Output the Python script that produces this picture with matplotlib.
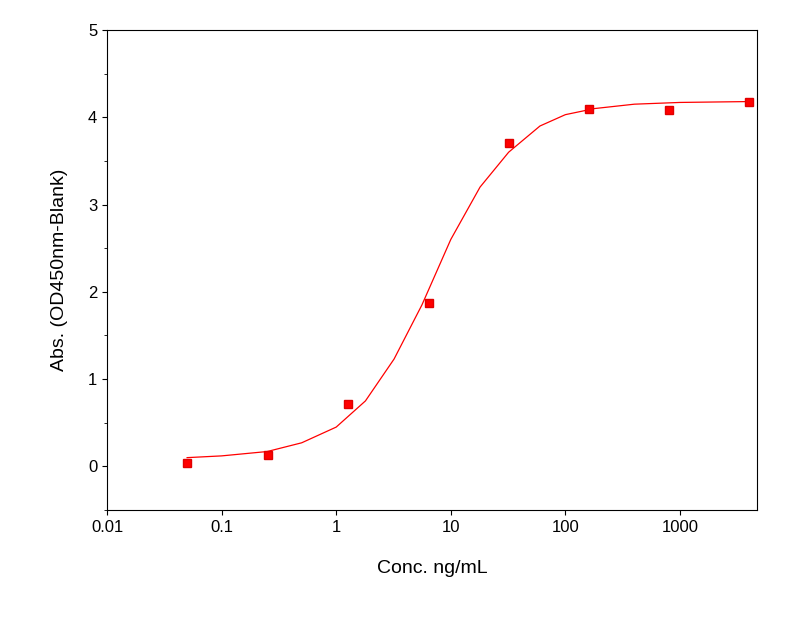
import matplotlib
matplotlib.use("Agg")
from matplotlib import pyplot as plt
from matplotlib.ticker import FixedLocator, NullLocator, MultipleLocator

plt.rcParams["font.family"] = "Liberation Sans"

# measured points
conc = [0.05, 0.256, 1.28, 6.4, 32, 160, 800, 4000]
od = [0.04, 0.13, 0.72, 1.87, 3.71, 4.10, 4.08, 4.18]

# fitted curve
fit_x = [0.05, 0.1, 0.25, 0.5, 1.0, 1.8, 3.2, 5.6, 10, 18, 32, 60, 100, 180, 400, 1000, 4000]
fit_y = [0.10, 0.12, 0.17, 0.27, 0.45, 0.75, 1.23, 1.85, 2.60, 3.20, 3.60, 3.90, 4.03, 4.10, 4.15, 4.17, 4.18]

xticks = [0.01, 0.1, 1, 10, 100, 1000]
xlabels = ["0.01", "0.1", "1", "10", "100", "1000"]

fig = plt.figure(figsize=(7.89, 6.24), dpi=100)
ax = fig.add_axes([107/789, 114/624, 650/789, 480/624])

ax.plot(fit_x, fit_y, color="red", lw=0.9)
ax.plot(conc, od, "s", color="red", ms=6, mec="#e00000")

ax.set_xscale("log")
ax.set_xlim(0.01, 4700)
ax.set_ylim(-0.5, 5)
ax.xaxis.set_major_locator(FixedLocator(xticks))
ax.set_xticklabels(xlabels)
ax.xaxis.set_minor_locator(NullLocator())
ax.yaxis.set_major_locator(MultipleLocator(1))
ax.yaxis.set_minor_locator(MultipleLocator(0.5))
ax.tick_params(direction="out", labelsize=12)
ax.tick_params(which="minor", length=2.5)

ax.set_xlabel("Conc. ng/mL", fontsize=14, labelpad=18)
ax.set_ylabel("Abs. (OD450nm-Blank)", fontsize=14, labelpad=14)

plt.savefig("out.png", dpi=100)
